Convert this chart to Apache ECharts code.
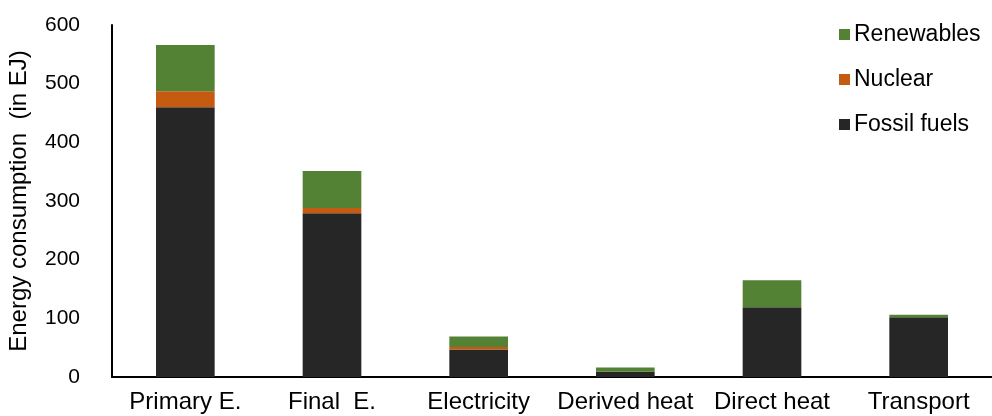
<!DOCTYPE html>
<html><head><meta charset="utf-8">
<script src="https://cdn.jsdelivr.net/npm/echarts@6/dist/echarts.min.js"></script>
<style>html,body{margin:0;padding:0;background:#fff}#c{width:992px;height:416px}</style>
</head><body><div id="c"></div>
<script>
const categories = ['Primary E.', 'Final  E.', 'Electricity', 'Derived heat', 'Direct heat', 'Transport'];
const fossil = [460, 279, 47, 9, 119, 102];
const nuclear = [27, 9, 4, 0, 0, 0];
const renewables = [79, 63, 18, 7, 46, 4];
const yTicks = [0, 100, 200, 300, 400, 500, 600];

const FONT = 'Liberation Sans, Arial, Helvetica, sans-serif';
const chart = echarts.init(document.getElementById('c'), null, {renderer: 'canvas'});
const mk = (name, data, color) => ({
  name, type: 'bar', stack: 'a', data, barWidth: '40%',
  itemStyle: {color}, emphasis: {disabled: true}
});
chart.setOption({
  animation: false,
  grid: {left: 112, right: 0, top: 25, bottom: 39, containLabel: false, outerBoundsMode: 'none'},
  legend: {
    orient: 'vertical', left: 839, top: 23, padding: 0, itemWidth: 11, itemHeight: 11, itemGap: 22,
    icon: 'rect',
    data: ['Renewables', 'Nuclear', 'Fossil fuels'],
    textStyle: {fontFamily: FONT, fontSize: 23, color: '#000', padding: [0, 0, 0, -1]}
  },
  xAxis: {
    type: 'category', data: categories,
    axisLine: {lineStyle: {color: '#000', width: 2}},
    axisTick: {show: false},
    axisLabel: {fontFamily: FONT, fontSize: 24, color: '#000', margin: 13, interval: 0}
  },
  yAxis: {
    type: 'value', min: 0, max: 600, interval: 100,
    name: 'Energy consumption  (in EJ)', nameLocation: 'middle', nameGap: 81,
    nameTextStyle: {fontFamily: FONT, fontSize: 24, color: '#000'},
    axisLine: {show: true, lineStyle: {color: '#000', width: 2}},
    axisTick: {show: false},
    splitLine: {show: false},
    axisLabel: {fontFamily: FONT, fontSize: 21, color: '#000', margin: 32,
      formatter: v => yTicks.includes(v) ? String(v) : ''}
  },
  series: [
    mk('Fossil fuels', fossil, '#262626'),
    mk('Nuclear', nuclear, '#C55A11'),
    mk('Renewables', renewables, '#548235')
  ]
});
</script></body></html>
